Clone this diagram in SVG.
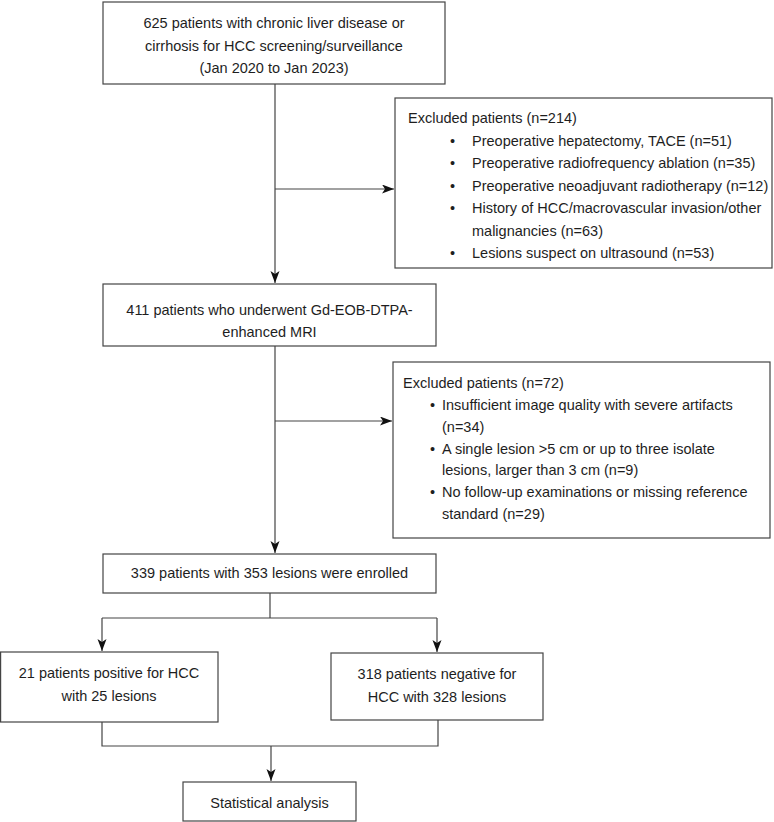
<svg xmlns="http://www.w3.org/2000/svg" width="774" height="822" viewBox="0 0 774 822">
<style>
.box{fill:#fff;stroke:#444;stroke-width:1.2}
.c{fill:none;stroke:#444;stroke-width:1.2}
text{font-family:"Liberation Sans",Arial,Helvetica,sans-serif;font-size:14.5px;fill:#1e1e1e}
.m{text-anchor:middle}
</style>
<defs>
<marker id="arr" markerUnits="userSpaceOnUse" markerWidth="13" markerHeight="10" refX="12" refY="4.5" orient="auto">
<path d="M0,0 L12,4.5 L0,9 L3,4.5 z" fill="#111"/>
</marker>
</defs>
<rect width="774" height="822" fill="#fff"/>
<g id="connectors">
<path class="c" d="M275,84 V283" marker-end="url(#arr)"/>
<path class="c" d="M275,189 H394" marker-end="url(#arr)"/>
<path class="c" d="M275,346 V553" marker-end="url(#arr)"/>
<path class="c" d="M275,421 H392" marker-end="url(#arr)"/>
<path class="c" d="M270,593 V618"/>
<path class="c" d="M102,618 H437"/>
<path class="c" d="M102,618 V651" marker-end="url(#arr)"/>
<path class="c" d="M437,618 V652" marker-end="url(#arr)"/>
<path class="c" d="M102,722 V746 H438 V720"/>
<path class="c" d="M271,746 V781" marker-end="url(#arr)"/>
</g>
<g id="n1">
<rect class="box" x="103" y="2" width="342" height="82"/>
<text class="m" x="274" y="28">625 patients with chronic liver disease or</text>
<text class="m" x="274" y="50.5">cirrhosis for HCC screening/surveillance</text>
<text class="m" x="274" y="73">(Jan 2020 to Jan 2023)</text>
</g>
<g id="ex1">
<rect class="box" x="395" y="98" width="377" height="170"/>
<text x="408" y="123">Excluded patients (n=214)</text>
<text x="450" y="145.5">•</text><text x="472" y="145.5">Preoperative hepatectomy, TACE (n=51)</text>
<text x="450" y="168">•</text><text x="472" y="168">Preoperative radiofrequency ablation (n=35)</text>
<text x="450" y="190.5">•</text><text x="472" y="190.5">Preoperative neoadjuvant radiotherapy (n=12)</text>
<text x="450" y="213">•</text><text x="472" y="213">History of HCC/macrovascular invasion/other</text>
<text x="472" y="235.5">malignancies (n=63)</text>
<text x="450" y="258">•</text><text x="472" y="258">Lesions suspect on ultrasound (n=53)</text>
</g>
<g id="n2">
<rect class="box" x="103" y="284" width="333" height="62"/>
<text class="m" x="269.5" y="315">411 patients who underwent Gd-EOB-DTPA-</text>
<text class="m" x="269.5" y="337">enhanced MRI</text>
</g>
<g id="ex2">
<rect class="box" x="393" y="362" width="377" height="176"/>
<text x="403" y="388">Excluded patients (n=72)</text>
<text x="430" y="410">•</text><text x="442" y="410">Insufficient image quality with severe artifacts</text>
<text x="442" y="432">(n=34)</text>
<text x="430" y="453.5">•</text><text x="442" y="453.5">A single lesion &gt;5 cm or up to three isolate</text>
<text x="442" y="475">lesions, larger than 3 cm (n=9)</text>
<text x="430" y="497">•</text><text x="442" y="497">No follow-up examinations or missing reference</text>
<text x="442" y="519">standard (n=29)</text>
</g>
<g id="n3">
<rect class="box" x="103" y="554" width="333" height="39"/>
<text class="m" x="269.5" y="578">339 patients with 353 lesions were enrolled</text>
</g>
<g id="pos">
<rect class="box" x="0.6" y="652" width="217.4" height="70"/>
<text class="m" x="109" y="678">21 patients positive for HCC</text>
<text class="m" x="109" y="701">with 25 lesions</text>
</g>
<g id="neg">
<rect class="box" x="331" y="653" width="212" height="67"/>
<text class="m" x="437" y="679">318 patients negative for</text>
<text class="m" x="437" y="702">HCC with 328 lesions</text>
</g>
<g id="stat">
<rect class="box" x="183" y="782" width="173" height="39"/>
<text class="m" x="269.5" y="808">Statistical analysis</text>
</g>
</svg>
